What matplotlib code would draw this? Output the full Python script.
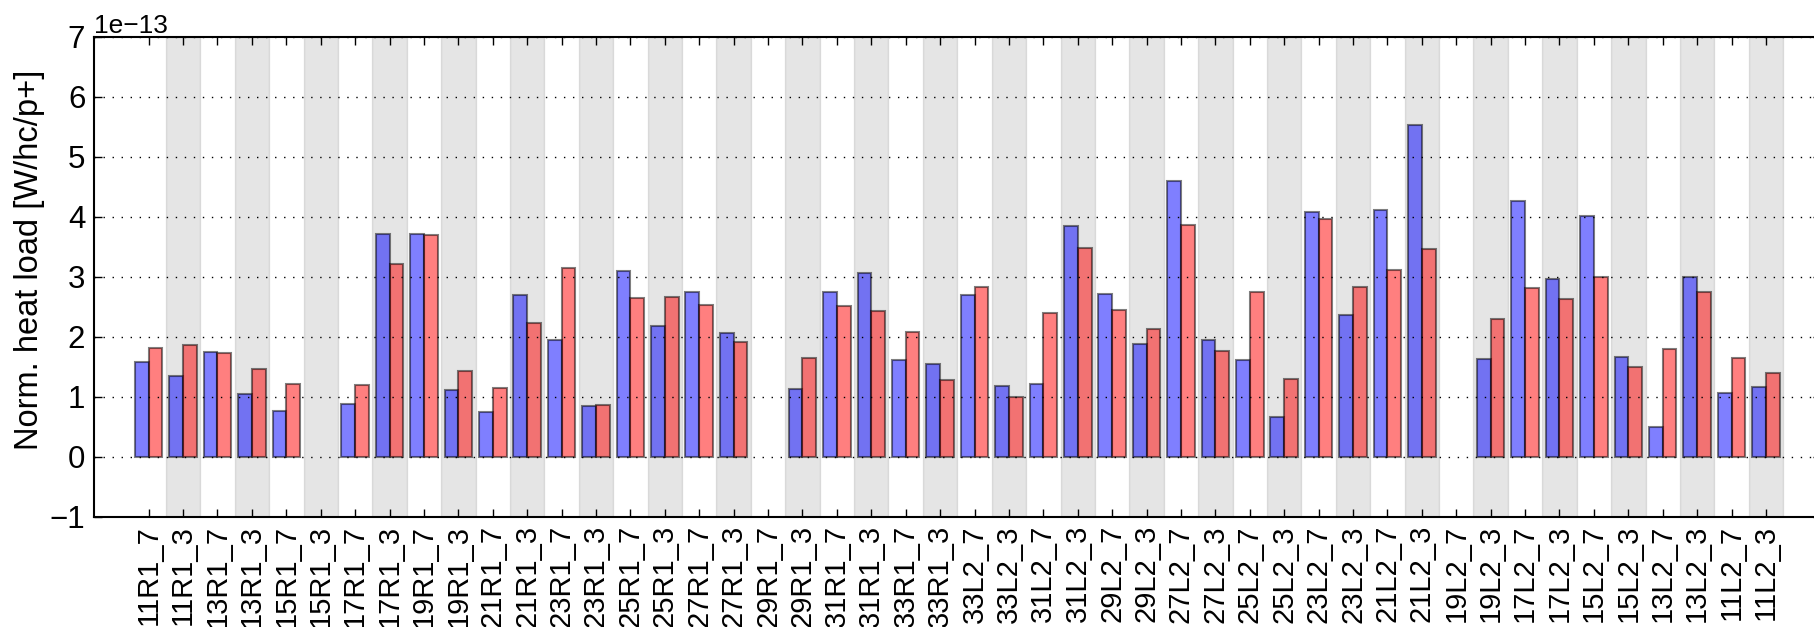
import numpy as np
import matplotlib
matplotlib.use("Agg")
import matplotlib.pyplot as plt

plt.rcParams["font.family"] = ["Liberation Sans", "DejaVu Sans"]

labels = ["11R1_7", "11R1_3", "13R1_7", "13R1_3", "15R1_7", "15R1_3",
          "17R1_7", "17R1_3", "19R1_7", "19R1_3", "21R1_7", "21R1_3",
          "23R1_7", "23R1_3", "25R1_7", "25R1_3", "27R1_7", "27R1_3",
          "29R1_7", "29R1_3", "31R1_7", "31R1_3", "33R1_7", "33R1_3",
          "33L2_7", "33L2_3", "31L2_7", "31L2_3", "29L2_7", "29L2_3",
          "27L2_7", "27L2_3", "25L2_7", "25L2_3", "23L2_7", "23L2_3",
          "21L2_7", "21L2_3", "19L2_7", "19L2_3", "17L2_7", "17L2_3",
          "15L2_7", "15L2_3", "13L2_7", "13L2_3", "11L2_7", "11L2_3"]

# heat load in units of 1e-13 W/hc/p+ (nan = no data)
blue = [1.58, 1.35, 1.74, 1.04, 0.77, np.nan, 0.88, 3.71, 3.72, 1.12, 0.75, 2.69,
        1.94, 0.84, 3.10, 2.18, 2.74, 2.06, np.nan, 1.13, 2.74, 3.07, 1.61, 1.55,
        2.69, 1.18, 1.22, 3.85, 2.72, 1.88, 4.59, 1.94, 1.62, 0.66, 4.08, 2.36,
        4.12, 5.53, np.nan, 1.63, 4.26, 2.96, 4.01, 1.67, 0.49, 3.00, 1.06, 1.17]
red = [1.82, 1.87, 1.73, 1.46, 1.21, np.nan, 1.19, 3.21, 3.69, 1.43, 1.15, 2.23,
       3.15, 0.87, 2.65, 2.66, 2.53, 1.92, np.nan, 1.64, 2.51, 2.43, 2.08, 1.28,
       2.83, 0.99, 2.39, 3.48, 2.44, 2.13, 3.87, 1.76, 2.74, 1.29, 3.96, 2.83,
       3.11, 3.46, np.nan, 2.29, 2.82, 2.63, 3.00, 1.49, 1.79, 2.74, 1.64, 1.39]

scale = 1e-13
x = np.arange(len(labels))
blue = np.array(blue) * scale
red = np.array(red) * scale

fig = plt.figure(figsize=(18.15, 6.27), dpi=100)
ax = fig.add_axes([93.6 / 1815, 1 - 516.7 / 627, (1821 - 93.6) / 1815, 480 / 627])

# shade every second cell
for i in x[1::2]:
    ax.axvspan(i - 0.5, i + 0.5, facecolor="k", edgecolor="k", alpha=0.1, lw=1)

ax.bar(x - 0.4, blue, width=0.4, align="edge", color="b", alpha=0.5,
       edgecolor="k", linewidth=1.5)
ax.bar(x, red, width=0.4, align="edge", color="r", alpha=0.5,
       edgecolor="k", linewidth=1.5)

ax.set_xlim(-1.6, 48.6)
ax.set_ylim(-1 * scale, 7 * scale)
ax.set_yticks(np.arange(-1, 8) * scale)
ax.set_xticks(x)
ax.set_xticklabels(labels, rotation=90)
ax.yaxis.grid(True, linestyle=(0, (1, 5.5)), color="k", linewidth=1)
ax.set_axisbelow(False)
ax.tick_params(direction="in", length=6, width=1, top=True, right=True, pad=6)
ax.tick_params(axis="x", labelsize=21)
ax.tick_params(axis="y", labelsize=22.5)
ax.yaxis.get_offset_text().set_fontsize(19)
for s in ax.spines.values():
    s.set_linewidth(1.5)
ax.set_ylabel("Norm. heat load [W/hc/p+]", fontsize=23.5, labelpad=3, y=0.535)

fig.savefig("out.png", dpi=100)
